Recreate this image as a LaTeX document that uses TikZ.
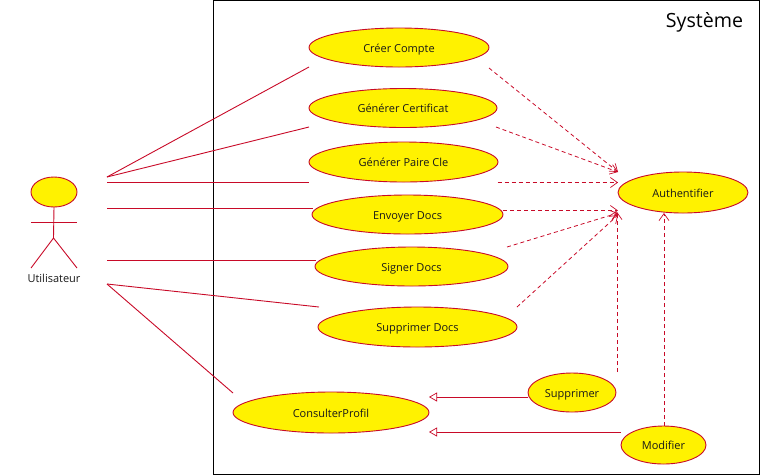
\documentclass[tikz,border=0pt]{standalone}
\usepackage{fontspec}
\setmainfont{Open Sans}
\usetikzlibrary{arrows.meta,shapes.geometric}
\definecolor{umlred}{RGB}{200,10,40}
\tikzset{
  x=1pt,y=-1pt,
  usecase/.style={ellipse,draw=umlred,fill=yellow,line width=0.9pt,inner sep=0pt,outer sep=0pt,text height=10pt,text depth=1pt,font=\fontsize{11}{12}\selectfont,text=black!90},
  assoc/.style={draw=umlred,line width=0.9pt},
  dep/.style={draw=umlred,line width=0.8pt,dash pattern=on 4pt off 3pt,-{Straight Barb[length=7pt,width=10pt,line width=0.7pt]}},
  gen/.style={draw=umlred,line width=0.9pt,-{Triangle[open,length=8pt,width=9pt,fill=white,line width=0.7pt]}},
}
\begin{document}
\begin{tikzpicture}
\useasboundingbox (0,0) rectangle (762,475);
\node[draw=black,line width=1pt,outer sep=0pt,minimum width=546pt,minimum height=474pt,anchor=north west,inner sep=0pt] (sys) at (213.5,0) {};
\node[anchor=center,font=\fontsize{19.6}{22}\selectfont] (title) at (704.5,22) {Système};
\node[usecase,minimum width=180pt,minimum height=39pt] (creer) at (399,47.5) {Créer Compte};
\node[usecase,minimum width=188pt,minimum height=39pt] (cert) at (403,108) {Générer Certificat};
\node[usecase,minimum width=189pt,minimum height=40pt] (paire) at (403.5,162) {Générer Paire Cle};
\node[usecase,minimum width=191pt,minimum height=39pt] (envoyer) at (407.5,214.5) {Envoyer Docs};
\node[usecase,minimum width=193pt,minimum height=39pt] (signer) at (411.5,266.5) {Signer Docs};
\node[usecase,minimum width=199pt,minimum height=40pt] (supdocs) at (417.5,327) {Supprimer Docs};
\node[usecase,minimum width=196pt,minimum height=41pt] (profil) at (331,412.5) {ConsulterProfil};
\node[usecase,minimum width=88pt,minimum height=39pt] (supp) at (572,392.5) {Supprimer};
\node[usecase,minimum width=85pt,minimum height=38pt] (modif) at (663.5,445) {Modifier};
\node[usecase,minimum width=130pt,minimum height=41pt] (auth) at (683,192.5) {Authentifier};
% actor
\node[usecase,minimum width=46pt,minimum height=30pt] (head) at (54,192) {};
\coordinate (hip) at (53.5,238);
\coordinate (armL) at (31,222);
\coordinate (armR) at (77,222);
\coordinate (legL) at (31,268);
\coordinate (legR) at (77,268);
\draw[assoc] (head.south) -- (hip);
\draw[assoc] (armL) -- (armR);
\draw[assoc] (legL) -- (hip) -- (legR);
\node[font=\fontsize{11}{12}\selectfont,text=black!90] (actor) at (54,278) {Utilisateur};
% association ends
\coordinate (a1) at (107,177);
\coordinate (a2) at (107,182.5);
\coordinate (a3) at (107,208);
\coordinate (a4) at (107,260);
\coordinate (a5) at (107,284);
\coordinate (c1) at (309,67);
\coordinate (c2) at (309,127);
\coordinate (c3) at (309,182.5);
\coordinate (c4) at (313,208);
\coordinate (c5) at (316,260);
\coordinate (c6) at (319,307);
\coordinate (c7) at (233,393);
\draw[assoc] (a1) -- (c1);
\draw[assoc] (a1) -- (c2);
\draw[assoc] (a2) -- (c3);
\draw[assoc] (a3) -- (c4);
\draw[assoc] (a4) -- (c5);
\draw[assoc] (a5) -- (c6);
\draw[assoc] (a5) -- (c7);
% dependency ends
\coordinate (d1) at (489,68);
\coordinate (d2) at (496,127);
\coordinate (d3) at (497.5,182.5);
\coordinate (d4) at (503,210.5);
\coordinate (d5) at (507,247);
\coordinate (d6) at (517,307);
\coordinate (d7) at (617,372);
\coordinate (d8) at (664,426);
\coordinate (t1) at (618,172);
\coordinate (t2) at (618,182.5);
\coordinate (t3) at (618,210.5);
\coordinate (t4) at (618,213);
\coordinate (t5) at (618,215);
\coordinate (t6) at (617,212);
\coordinate (t7) at (664,213);
\draw[dep] (d1) -- (t1);
\draw[dep] (d2) -- (t1);
\draw[dep] (d3) -- (t2);
\draw[dep] (d4) -- (t3);
\draw[dep] (d5) -- (t4);
\draw[dep] (d6) -- (t5);
\draw[dep] (d7) -- (t6);
\draw[dep] (d8) -- (t7);
% generalisations
\coordinate (g1) at (528,397);
\coordinate (g2) at (621,432);
\coordinate (h1) at (429,397);
\coordinate (h2) at (429,432);
\draw[gen] (g1) -- (h1);
\draw[gen] (g2) -- (h2);
\end{tikzpicture}
\end{document}
